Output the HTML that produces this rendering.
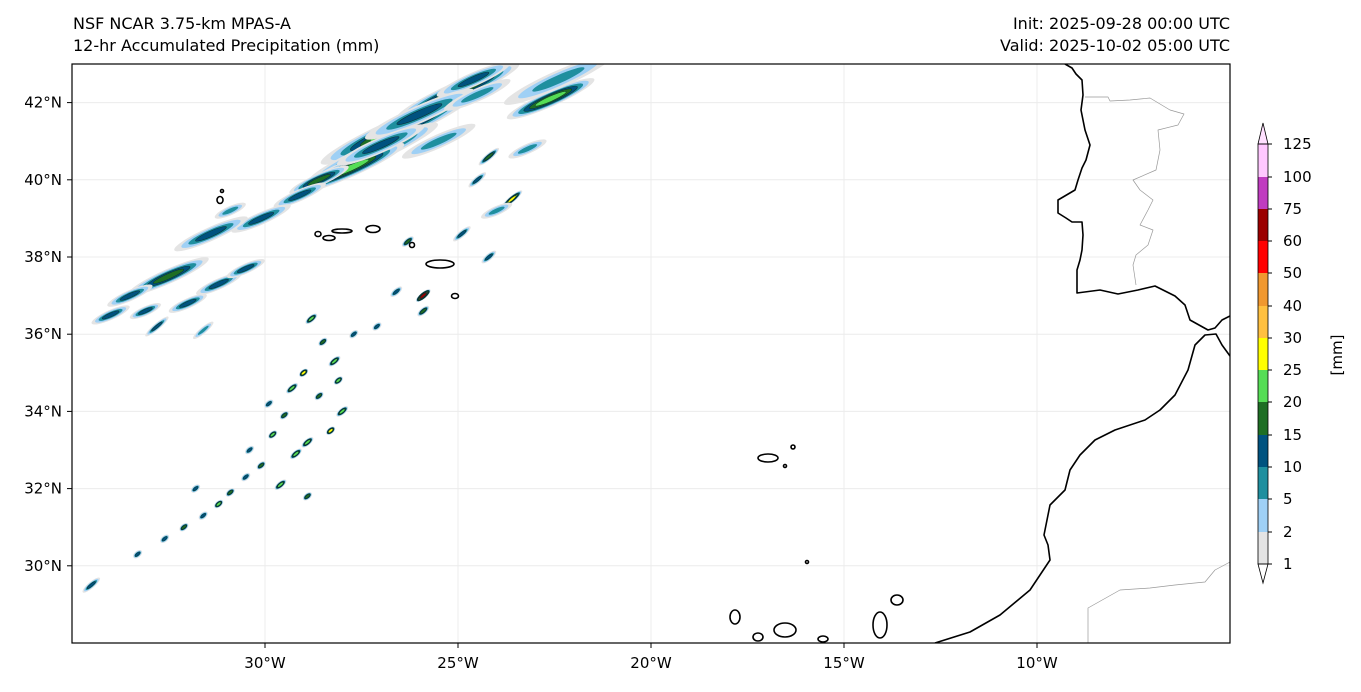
<!DOCTYPE html>
<html><head><meta charset="utf-8"><style>
body{margin:0;background:#fff;font-family:"Liberation Sans","DejaVu Sans",sans-serif;}
svg text{font-family:"DejaVu Sans","Liberation Sans",sans-serif;}
</style></head><body>
<svg id="chart" width="1361" height="687" xmlns="http://www.w3.org/2000/svg">
<text x="73" y="29" font-size="16">NSF NCAR 3.75-km MPAS-A</text>
<text x="73" y="51" font-size="16">12-hr Accumulated Precipitation (mm)</text>
<text x="1230" y="29" font-size="16" text-anchor="end">Init: 2025-09-28 00:00 UTC</text>
<text x="1230" y="51" font-size="16" text-anchor="end">Valid: 2025-10-02 05:00 UTC</text>
<defs><clipPath id="mc"><rect x="72" y="64" width="1158" height="579"/></clipPath></defs>
<g id="grid" clip-path="url(#mc)"></g>
<g id="precip" clip-path="url(#mc)"></g>
<g id="land" clip-path="url(#mc)"></g>
<rect x="72" y="64" width="1158" height="579" fill="none" stroke="#000" stroke-width="1.2"/>
<g id="axes"></g>
<g id="cbar"></g>
<text transform="translate(1342,355) rotate(-90)" font-size="15" text-anchor="middle">[mm]</text>
</svg>
<script>
const NS="http://www.w3.org/2000/svg";
const lonTicks=[-30,-25,-20,-15,-10];
const latTicks=[30,32,34,36,38,40,42];
const levels=[1,2,5,10,15,20,25,30,40,50,60,75,100,125];
const binColors=["#e4e4e4","#9fd0f5","#1f8f9f","#00527f","#1e6e24","#55dd55","#ffff00","#ffc040","#f09830","#ff0000","#9b0000","#c03cc0","#ffc8ff"];
// precipitation cells: center lon, lat, streak length (deg), max value (mm)
const cellLon=[-25.0,-26.6,-27.2,-27.8,-28.6,-29.1,-30.1,-31.4,-30.9,-24.6,-22.6,-22.4,-24.2,-24.5,-23.6,-24.9,-24.2,-25.9,-32.5,-31.2,-33.5,-30.5,-32.0,-33.1,-32.8,-34.0,-31.6,
-28.8,-28.5,-28.2,-29.0,-29.3,-28.6,-28.0,-29.5,-29.8,-28.9,-28.3,-29.2,-30.1,-30.5,-30.9,-31.2,-31.6,-32.1,-32.6,-33.3,-29.6,-28.1,-27.1,-26.6,-28.9,-29.9,-27.7,-26.3,-30.4,-31.8,-34.5,-25.9,-24.0,-23.2,-26.0,-25.5,-27.0,-24.5];
const cellLat=[42.3,41.3,40.7,40.3,40.0,39.6,39.0,38.6,39.2,42.6,42.1,42.6,40.6,40.0,39.5,38.6,38.0,37.0,37.5,37.3,37.0,37.7,36.8,36.6,36.2,36.5,36.1,
36.4,35.8,35.3,35.0,34.6,34.4,34.0,33.9,33.4,33.2,33.5,32.9,32.6,32.3,31.9,31.6,31.3,31.0,30.7,30.3,32.1,34.8,36.2,37.1,31.8,34.2,36.0,38.4,33.0,32.0,29.5,36.6,39.2,40.8,41.7,41.0,40.9,42.2];
const cellLen=[3.4,4.2,3.6,3.0,1.6,1.4,1.6,2.0,0.8,2.0,2.4,3.0,0.6,0.5,0.6,0.5,0.4,0.4,2.2,1.2,1.2,1.0,1.0,0.8,0.7,1.0,0.6,
0.3,0.2,0.3,0.2,0.3,0.2,0.3,0.2,0.2,0.3,0.2,0.3,0.2,0.2,0.2,0.2,0.2,0.2,0.2,0.2,0.3,0.2,0.2,0.3,0.2,0.2,0.2,0.3,0.2,0.2,0.5,0.3,0.8,1.0,3.0,2.0,2.4,1.8];
const cellMax=[20,20,15,20,15,10,10,10,5,10,20,5,15,10,25,10,10,60,15,10,10,10,10,10,10,10,5,
20,15,20,25,20,15,20,15,20,20,25,20,15,10,15,20,10,15,10,10,20,20,10,10,15,10,10,15,10,10,10,15,5,5,10,5,10,5];
const x=lon=>72+(lon+35)*38.6, y=lat=>64+(43-lat)*38.6;
const px=(X)=>-35+(X-72)/38.6, py=(Y)=>43-(Y-64)/38.6;
function el(t,a,p){const e=document.createElementNS(NS,t);for(const k in a)e.setAttribute(k,a[k]);p.appendChild(e);return e;}
const grid=document.getElementById('grid'),axes=document.getElementById('axes');
lonTicks.forEach(l=>{
 const g=el('line',{x1:x(l),x2:x(l),y1:64,y2:643,stroke:'#ececec','stroke-width':1},grid);
 
 el('line',{x1:x(l),x2:x(l),y1:643,y2:648,stroke:'#000'},axes);
 const tx=el('text',{x:x(l),y:668,'font-size':15,'text-anchor':'middle'},axes);tx.textContent=(-l)+'°W';
 
});
latTicks.forEach(l=>{
 const g=el('line',{x1:72,x2:1230,y1:y(l),y2:y(l),stroke:'#ececec','stroke-width':1},grid);
 
 el('line',{x1:67,x2:72,y1:y(l),y2:y(l),stroke:'#000'},axes);
 const tx=el('text',{x:62,y:y(l)+5,'font-size':15,'text-anchor':'end'},axes);tx.textContent=l+'°N';
 
});
const pg=document.getElementById('precip');
for(let i=0;i<cellLon.length;i++){
 const cx=x(cellLon[i]),cy=y(cellLat[i]),L=cellLen[i]*38.6;
 let n=0;while(n<levels.length-1&&levels[n+1]<=cellMax[i])n++;
 const big=L>30;
 const g=el('g',{transform:`translate(${cx},${cy}) rotate(${big?-24:-40})`},pg);
 
 for(let k=0;k<=n;k++){
  const f=1-0.8*k/(n+1);
  const rx=Math.max(1.5,L/2*f+1.5), ry=Math.max(1.2,(big?L*0.05+3:3.2)*f);
  el('ellipse',{cx:0,cy:0,rx:rx,ry:ry,fill:binColors[k],stroke:k>=3?'#0b2e2e':'none','stroke-width':0.5},g);
 }
}
const land=document.getElementById('land');
function poly(pts,name,stroke,w){
 const d=pts.map((p,i)=>(i?'L':'M')+x(px(p[0])).toFixed(1)+','+y(py(p[1])).toFixed(1)).join('');
 const e=el('path',{d:d,fill:'none',stroke:stroke,'stroke-width':w,'stroke-linejoin':'round'},land);
 
}
poly([[1065,64],[1072,68],[1076,74],[1082,80],[1083,95],[1081,110],[1085,130],[1090,145],[1086,160],[1082,168],[1078,180],[1075,190],[1058,200],[1058,213],[1066,218],[1072,222],[1082,222],[1083,235],[1082,250],[1080,260],[1077,270],[1077,293],[1100,290],[1118,294],[1138,290],[1155,286],[1175,296],[1185,305],[1190,320],[1208,330],[1215,328],[1222,320],[1230,316]],'iberia-coastline','#000',1.6);
poly([[1230,356],[1222,345],[1216,334],[1205,335],[1195,345],[1188,370],[1175,395],[1160,410],[1145,420],[1115,430],[1095,440],[1080,455],[1070,470],[1065,490],[1050,505],[1044,535],[1048,545],[1050,560],[1040,575],[1030,590],[1000,615],[970,632],[935,643]],'africa-coastline','#000',1.6);
poly([[1085,97],[1108,97],[1110,101],[1130,100],[1150,98],[1170,110],[1184,114],[1178,125],[1158,130],[1160,150],[1156,170],[1133,180],[1140,190],[1153,200],[1148,210],[1140,225],[1153,230],[1148,245],[1136,255],[1133,265],[1136,285]],'portugal-spain-border','#999',0.7);
poly([[1088,643],[1088,608],[1120,590],[1150,588],[1175,585],[1205,582],[1215,570],[1230,562]],'western-sahara-border','#999',0.7);
[[220,200,3,3.5],[222,191,1.5,1.5],[373,229,7,3.5],[318,234,3,2.5],[329,238,6,2.5],[342,231,10,2],[412,245,2.5,2.5],[440,264,14,4],[455,296,3.5,2.5],[768,458,10,4],[793,447,2,2],[785,466,1.5,1.5],[735,617,5,7],[758,637,5,4],[785,630,11,7],[823,639,5,3],[880,625,7,13],[897,600,6,5],[807,562,1.5,1.5]].forEach(p=>{
 const e=el('ellipse',{cx:p[0],cy:p[1],rx:p[2],ry:p[3],fill:'none',stroke:'#000','stroke-width':1.6},land);
 
});
const cb=document.getElementById('cbar');
const cbY=[564,532,499,467,435,402,370,338,306,273,241,209,177,144];
for(let i=0;i<binColors.length;i++){
 const r=el('rect',{x:1258,y:cbY[i+1],width:10,height:cbY[i]-cbY[i+1],fill:binColors[i]},cb);
 
}
el('path',{d:'M1258,564L1268,564L1263,583Z',fill:'#fff',stroke:'#000','stroke-width':0.8},cb);
el('path',{d:'M1258,144L1268,144L1263,123Z',fill:'#ffe0ff',stroke:'#000','stroke-width':0.8},cb);
el('rect',{x:1258,y:144,width:10,height:420,fill:'none',stroke:'#000','stroke-width':0.8},cb);
levels.forEach((v,i)=>{
 el('line',{x1:1268,x2:1272,y1:cbY[i],y2:cbY[i],stroke:'#000'},cb);
 const t=el('text',{x:1283,y:cbY[i]+5,'font-size':15},cb);t.textContent=v;
 
});
</script>
</body></html>
